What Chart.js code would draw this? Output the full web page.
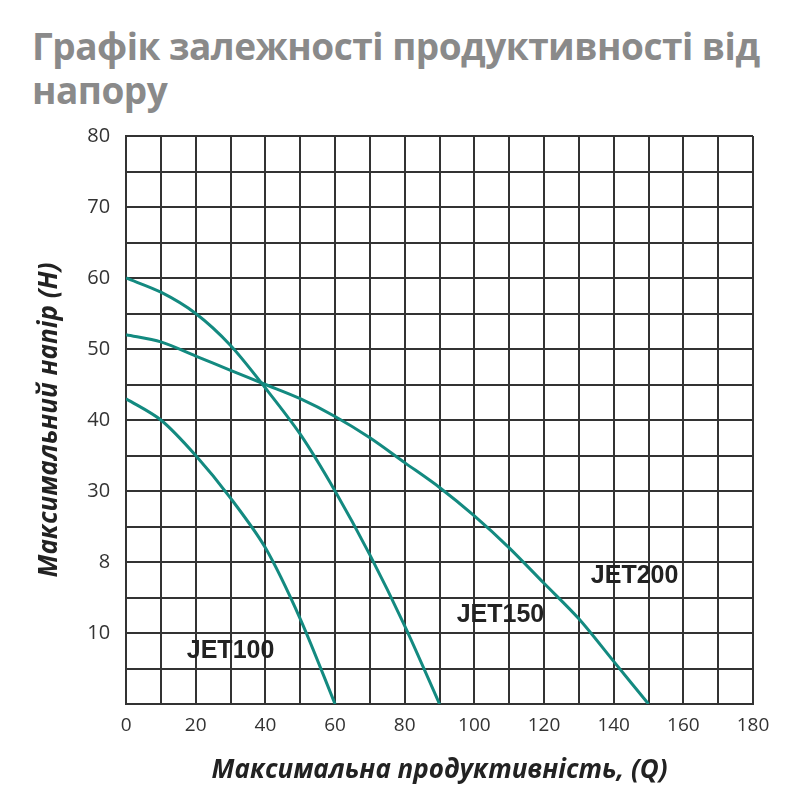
<!DOCTYPE html>
<html>
<head>
<meta charset="utf-8">
<script src="https://cdn.jsdelivr.net/npm/chart.js@4"></script>
<style>
  body { margin: 0; background: #fff; }
  #wrap { position: relative; width: 800px; height: 800px; }
  h1 { position: absolute; left: 32px; top: 24px; margin: 0; font: bold 37px "Open Sans", sans-serif; color: #8a8a8a; line-height: 44px; letter-spacing: -0.5px; }
  canvas { position: absolute; left: 0; top: 0; }
</style>
</head>
<body>
<div id="wrap">
  <h1>Графік залежності продуктивності від<br>напору</h1>
  <canvas id="c" width="800" height="800"></canvas>
</div>
<script>
// Curve data
const jet100X = [0, 10, 20, 30, 40, 50, 60];
const jet100Y = [43, 40, 35, 29, 22, 12, 0];
const jet150X = [0, 10, 20, 30, 40, 50, 60, 70, 80, 90];
const jet150Y = [60, 58, 55, 50.5, 44.5, 38, 30, 21, 11, 0];
const jet200X = [0, 10, 20, 30, 40, 50, 60, 70, 80, 90, 100, 110, 120, 130, 140, 150];
const jet200Y = [52, 51, 49, 47, 45, 43, 40.5, 37.5, 34, 30.5, 26.5, 22, 17, 12, 6, 0];
// odd y tick texts as printed on the original
const yTickText = { 10: '10', 20: '8', 30: '30', 40: '40', 50: '50', 60: '60', 70: '70', 80: '80' };
const curveLabels = [
    { text: 'JET100', x: 30, y: 7.5 },
    { text: 'JET150', x: 107.5, y: 12.5 },
    { text: 'JET200', x: 146, y: 18 }
];

const teal = '#138a80';
const pts = (xs, ys) => xs.map((x, i) => ({ x: x, y: ys[i] }));

const labelPlugin = {
    id: 'curveLabels',
    afterDatasetsDraw(chart) {
        const ctx = chart.ctx;
        ctx.save();
        ctx.font = 'bold 25px "Liberation Sans", sans-serif';
        ctx.fillStyle = '#222';
        ctx.textAlign = 'center';
        ctx.textBaseline = 'middle';
        curveLabels.forEach(l => {
            ctx.fillText(l.text, chart.scales.x.getPixelForValue(l.x), chart.scales.y.getPixelForValue(l.y));
        });
        ctx.restore();
    }
};

const lineDs = (data) => ({
    data: data, borderColor: teal, borderWidth: 3, pointRadius: 0,
    tension: 0.3, fill: false
});

new Chart(document.getElementById('c'), {
    type: 'line',
    data: {
        datasets: [lineDs(pts(jet100X, jet100Y)), lineDs(pts(jet150X, jet150Y)), lineDs(pts(jet200X, jet200Y))]
    },
    options: {
        responsive: false,
        animation: false,
        layout: { padding: { top: 136, right: 47, bottom: 10, left: 30 } },
        plugins: { legend: { display: false }, tooltip: { enabled: false } },
        scales: {
            x: {
                type: 'linear', min: 0, max: 180,
                grid: { color: '#333', lineWidth: 2, drawTicks: false },
                border: { color: '#333', width: 2 },
                ticks: { stepSize: 10, padding: 10, color: '#333', maxRotation: 0, autoSkip: false,
                    font: { family: 'Open Sans', size: 19 },
                    callback: v => v % 20 === 0 ? v : '' },
                title: { display: true, text: 'Максимальна продуктивність, (Q)', color: '#222',
                    font: { family: 'Open Sans', size: 26, weight: 'bold', style: 'italic' }, padding: { top: 8 } }
            },
            y: {
                type: 'linear', min: 0, max: 80,
                grid: { color: '#333', lineWidth: 2, drawTicks: false },
                border: { color: '#333', width: 2 },
                ticks: { stepSize: 5, padding: 16, color: '#333', autoSkip: false,
                    font: { family: 'Open Sans', size: 20 },
                    callback: v => yTickText[v] || '' },
                title: { display: true, text: 'Максимальний напір (H)', color: '#222',
                    font: { family: 'Open Sans', size: 26, weight: 'bold', style: 'italic' }, padding: { bottom: 6 } }
            }
        }
    },
    plugins: [labelPlugin]
});
</script>
</body>
</html>
